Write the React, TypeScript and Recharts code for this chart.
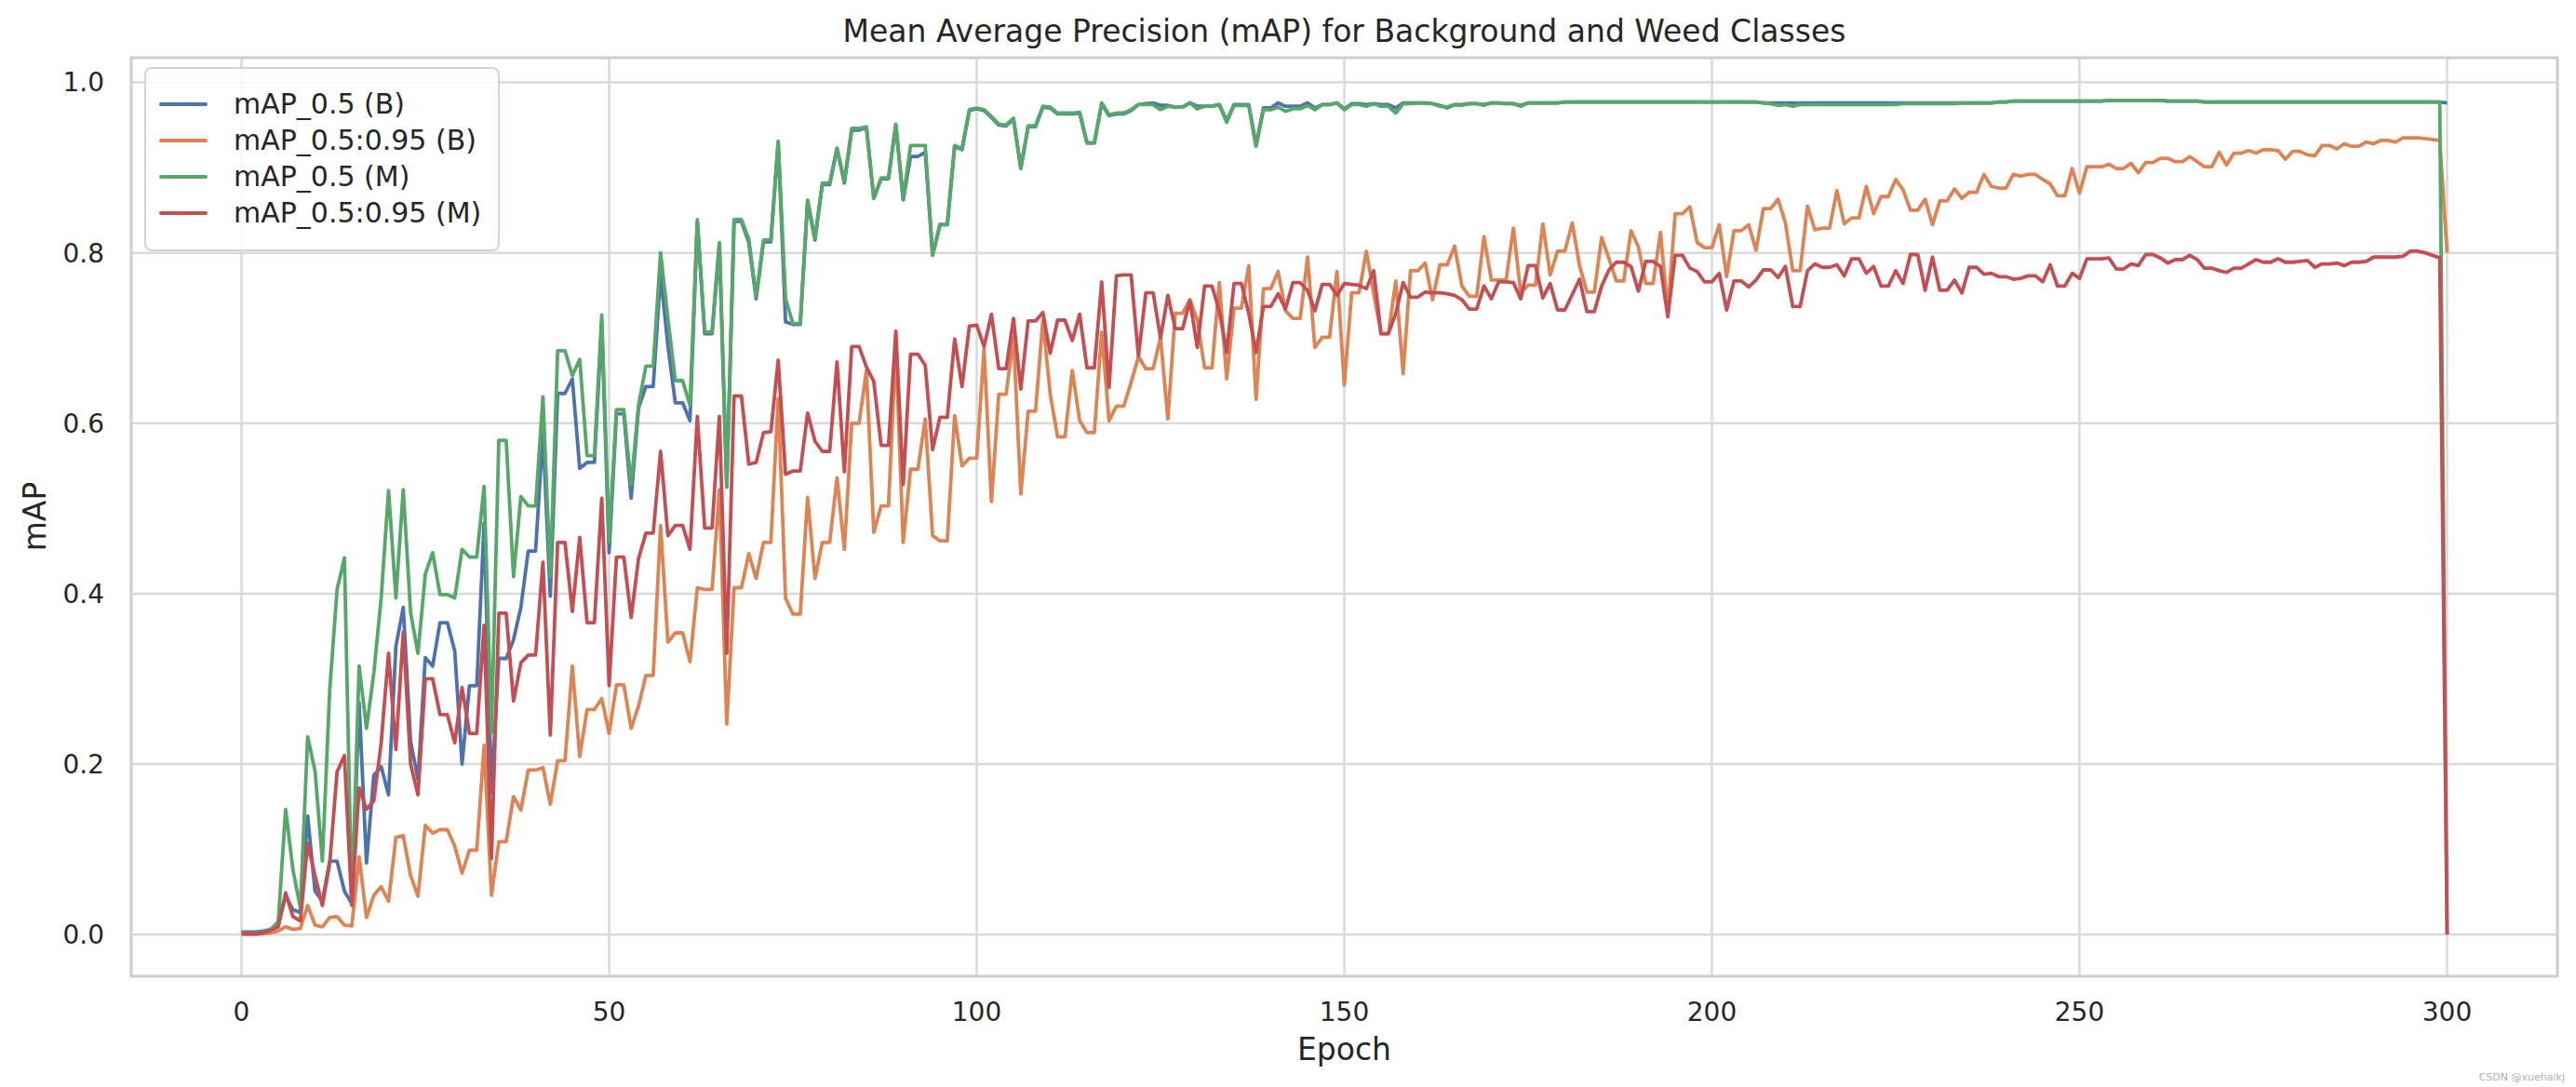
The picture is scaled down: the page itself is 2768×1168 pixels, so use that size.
import { LineChart, Line, XAxis, YAxis, CartesianGrid, Legend, ReferenceArea } from "recharts";

// mAP per epoch (index = epoch)
const MAP50_B = [
  0.003, 0.003, 0.003, 0.004, 0.006, 0.012, 0.045, 0.029, 0.026, 0.139,
  0.051, 0.039, 0.086, 0.086, 0.051, 0.036, 0.272, 0.084, 0.187, 0.197,
  0.164, 0.338, 0.384, 0.227, 0.182, 0.325, 0.315, 0.366, 0.366, 0.333,
  0.200, 0.292, 0.292, 0.483, 0.167, 0.324, 0.324, 0.346, 0.384, 0.450,
  0.450, 0.589, 0.397, 0.635, 0.635, 0.652, 0.547, 0.554, 0.554, 0.717,
  0.448, 0.611, 0.611, 0.512, 0.618, 0.643, 0.643, 0.775, 0.691, 0.624,
  0.624, 0.603, 0.836, 0.705, 0.705, 0.810, 0.525, 0.837, 0.837, 0.812,
  0.746, 0.813, 0.813, 0.929, 0.719, 0.716, 0.716, 0.860, 0.815, 0.880,
  0.880, 0.922, 0.882, 0.944, 0.944, 0.947, 0.864, 0.887, 0.887, 0.950,
  0.862, 0.913, 0.913, 0.918, 0.797, 0.833, 0.833, 0.925, 0.921, 0.967,
  0.969, 0.967, 0.959, 0.950, 0.949, 0.957, 0.899, 0.948, 0.948, 0.971,
  0.970, 0.963, 0.963, 0.963, 0.964, 0.929, 0.929, 0.975, 0.961, 0.963,
  0.963, 0.967, 0.974, 0.975, 0.976, 0.973, 0.973, 0.971, 0.971, 0.976,
  0.972, 0.972, 0.972, 0.974, 0.955, 0.974, 0.974, 0.974, 0.926, 0.970,
  0.970, 0.976, 0.972, 0.972, 0.972, 0.976, 0.970, 0.974, 0.974, 0.976,
  0.969, 0.975, 0.975, 0.974, 0.975, 0.974, 0.974, 0.970, 0.976, 0.976,
  0.976, 0.976, 0.975, 0.973, 0.970, 0.974, 0.974, 0.975, 0.975, 0.974,
  0.976, 0.976, 0.975, 0.975, 0.973, 0.976, 0.976, 0.976, 0.976, 0.976,
  0.977, 0.977, 0.977, 0.977, 0.977, 0.977, 0.977, 0.977, 0.977, 0.977,
  0.977, 0.977, 0.977, 0.977, 0.977, 0.977, 0.977, 0.977, 0.977, 0.977,
  0.977, 0.977, 0.977, 0.977, 0.977, 0.977, 0.977, 0.976, 0.976, 0.976,
  0.976, 0.976, 0.976, 0.976, 0.976, 0.976, 0.976, 0.976, 0.976, 0.976,
  0.976, 0.976, 0.976, 0.976, 0.976, 0.976, 0.976, 0.976, 0.976, 0.976,
  0.976, 0.976, 0.976, 0.976, 0.976, 0.976, 0.976, 0.976, 0.976, 0.977,
  0.977, 0.978, 0.978, 0.978, 0.978, 0.978, 0.978, 0.978, 0.978, 0.978,
  0.978, 0.978, 0.978, 0.978, 0.979, 0.979, 0.979, 0.979, 0.979, 0.979,
  0.979, 0.979, 0.978, 0.978, 0.978, 0.978, 0.978, 0.977, 0.977, 0.977,
  0.977, 0.977, 0.977, 0.977, 0.977, 0.977, 0.977, 0.977, 0.977, 0.977,
  0.977, 0.977, 0.977, 0.977, 0.977, 0.977, 0.977, 0.977, 0.977, 0.977,
  0.977, 0.977, 0.977, 0.977, 0.977, 0.977, 0.977, 0.977, 0.977, 0.977,
  0.976,
];

const MAP5095_B = [
  0.000, 0.000, 0.000, 0.001, 0.002, 0.004, 0.009, 0.006, 0.007, 0.034,
  0.011, 0.009, 0.020, 0.021, 0.011, 0.010, 0.091, 0.020, 0.046, 0.056,
  0.039, 0.114, 0.116, 0.069, 0.045, 0.128, 0.119, 0.123, 0.123, 0.104,
  0.072, 0.099, 0.099, 0.222, 0.046, 0.109, 0.109, 0.162, 0.146, 0.193,
  0.193, 0.196, 0.153, 0.204, 0.204, 0.315, 0.209, 0.264, 0.264, 0.277,
  0.236, 0.293, 0.293, 0.242, 0.268, 0.304, 0.304, 0.480, 0.343, 0.354,
  0.354, 0.320, 0.407, 0.405, 0.405, 0.522, 0.247, 0.407, 0.407, 0.447,
  0.418, 0.460, 0.460, 0.629, 0.395, 0.376, 0.376, 0.513, 0.418, 0.460,
  0.460, 0.536, 0.452, 0.600, 0.600, 0.662, 0.472, 0.503, 0.503, 0.689,
  0.460, 0.546, 0.546, 0.605, 0.468, 0.462, 0.462, 0.609, 0.550, 0.559,
  0.559, 0.687, 0.508, 0.634, 0.634, 0.701, 0.517, 0.614, 0.614, 0.721,
  0.634, 0.584, 0.584, 0.662, 0.603, 0.589, 0.589, 0.707, 0.603, 0.620,
  0.620, 0.648, 0.678, 0.664, 0.664, 0.701, 0.605, 0.729, 0.729, 0.745,
  0.721, 0.665, 0.665, 0.765, 0.652, 0.735, 0.735, 0.785, 0.628, 0.758,
  0.758, 0.778, 0.732, 0.723, 0.723, 0.795, 0.689, 0.701, 0.701, 0.778,
  0.645, 0.753, 0.753, 0.802, 0.752, 0.705, 0.705, 0.767, 0.658, 0.779,
  0.779, 0.788, 0.745, 0.786, 0.786, 0.808, 0.761, 0.749, 0.749, 0.819,
  0.768, 0.768, 0.768, 0.829, 0.753, 0.762, 0.762, 0.834, 0.774, 0.802,
  0.802, 0.835, 0.785, 0.754, 0.754, 0.818, 0.793, 0.767, 0.767, 0.826,
  0.807, 0.764, 0.764, 0.824, 0.731, 0.846, 0.846, 0.854, 0.812, 0.806,
  0.806, 0.833, 0.772, 0.826, 0.826, 0.833, 0.803, 0.852, 0.852, 0.863,
  0.835, 0.779, 0.779, 0.855, 0.827, 0.829, 0.829, 0.873, 0.834, 0.841,
  0.841, 0.878, 0.846, 0.866, 0.866, 0.886, 0.874, 0.850, 0.850, 0.863,
  0.833, 0.861, 0.861, 0.875, 0.864, 0.871, 0.871, 0.892, 0.878, 0.876,
  0.876, 0.892, 0.890, 0.892, 0.892, 0.886, 0.881, 0.867, 0.867, 0.899,
  0.870, 0.901, 0.901, 0.901, 0.904, 0.899, 0.899, 0.905, 0.894, 0.906,
  0.906, 0.911, 0.911, 0.907, 0.907, 0.913, 0.907, 0.901, 0.901, 0.918,
  0.903, 0.917, 0.917, 0.920, 0.917, 0.921, 0.921, 0.920, 0.910, 0.919,
  0.919, 0.915, 0.914, 0.926, 0.926, 0.922, 0.928, 0.925, 0.925, 0.930,
  0.928, 0.932, 0.932, 0.930, 0.935, 0.935, 0.935, 0.934, 0.933, 0.932,
  0.800,
];

const MAP50_M = [
  0.002, 0.002, 0.002, 0.003, 0.006, 0.015, 0.147, 0.076, 0.031, 0.232,
  0.192, 0.086, 0.287, 0.405, 0.442, 0.036, 0.315, 0.242, 0.307, 0.395,
  0.521, 0.395, 0.522, 0.378, 0.330, 0.423, 0.448, 0.399, 0.399, 0.395,
  0.452, 0.443, 0.443, 0.526, 0.237, 0.580, 0.580, 0.420, 0.514, 0.503,
  0.503, 0.631, 0.420, 0.685, 0.685, 0.656, 0.675, 0.562, 0.562, 0.727,
  0.461, 0.616, 0.616, 0.528, 0.621, 0.667, 0.667, 0.800, 0.723, 0.650,
  0.650, 0.621, 0.839, 0.707, 0.707, 0.812, 0.525, 0.839, 0.839, 0.816,
  0.749, 0.815, 0.815, 0.931, 0.746, 0.717, 0.717, 0.862, 0.817, 0.882,
  0.882, 0.923, 0.884, 0.946, 0.946, 0.948, 0.864, 0.888, 0.888, 0.951,
  0.863, 0.926, 0.926, 0.926, 0.797, 0.833, 0.833, 0.926, 0.922, 0.968,
  0.970, 0.968, 0.960, 0.951, 0.950, 0.958, 0.900, 0.949, 0.949, 0.972,
  0.971, 0.964, 0.964, 0.964, 0.965, 0.929, 0.929, 0.976, 0.962, 0.964,
  0.964, 0.968, 0.974, 0.974, 0.974, 0.968, 0.972, 0.971, 0.971, 0.976,
  0.969, 0.972, 0.972, 0.974, 0.953, 0.973, 0.973, 0.973, 0.925, 0.968,
  0.968, 0.971, 0.966, 0.969, 0.969, 0.973, 0.968, 0.974, 0.974, 0.976,
  0.968, 0.974, 0.974, 0.972, 0.975, 0.972, 0.972, 0.964, 0.975, 0.975,
  0.976, 0.976, 0.975, 0.972, 0.971, 0.974, 0.973, 0.975, 0.975, 0.973,
  0.976, 0.976, 0.975, 0.975, 0.972, 0.976, 0.976, 0.976, 0.976, 0.976,
  0.977, 0.977, 0.977, 0.977, 0.977, 0.977, 0.977, 0.977, 0.977, 0.977,
  0.977, 0.977, 0.977, 0.977, 0.977, 0.977, 0.977, 0.977, 0.977, 0.977,
  0.977, 0.977, 0.977, 0.977, 0.977, 0.977, 0.977, 0.976, 0.975, 0.973,
  0.974, 0.972, 0.974, 0.974, 0.974, 0.974, 0.974, 0.974, 0.974, 0.974,
  0.974, 0.974, 0.974, 0.974, 0.974, 0.974, 0.975, 0.975, 0.975, 0.975,
  0.975, 0.975, 0.975, 0.975, 0.976, 0.976, 0.976, 0.976, 0.976, 0.977,
  0.977, 0.978, 0.978, 0.978, 0.978, 0.978, 0.978, 0.978, 0.978, 0.978,
  0.978, 0.978, 0.978, 0.978, 0.979, 0.979, 0.979, 0.979, 0.979, 0.979,
  0.979, 0.979, 0.978, 0.978, 0.978, 0.978, 0.978, 0.977, 0.977, 0.977,
  0.977, 0.977, 0.977, 0.977, 0.977, 0.977, 0.977, 0.977, 0.977, 0.977,
  0.977, 0.977, 0.977, 0.977, 0.977, 0.977, 0.977, 0.977, 0.977, 0.977,
  0.977, 0.977, 0.977, 0.977, 0.977, 0.977, 0.977, 0.977, 0.977, 0.977,
  0.000,
];

const MAP5095_M = [
  0.001, 0.001, 0.001, 0.002, 0.005, 0.009, 0.049, 0.021, 0.016, 0.107,
  0.069, 0.034, 0.084, 0.191, 0.210, 0.034, 0.172, 0.147, 0.157, 0.225,
  0.330, 0.217, 0.355, 0.200, 0.164, 0.300, 0.300, 0.258, 0.258, 0.225,
  0.290, 0.236, 0.236, 0.363, 0.089, 0.377, 0.377, 0.274, 0.319, 0.328,
  0.328, 0.437, 0.234, 0.460, 0.460, 0.379, 0.466, 0.366, 0.366, 0.512,
  0.292, 0.443, 0.443, 0.372, 0.441, 0.471, 0.471, 0.567, 0.468, 0.480,
  0.480, 0.452, 0.608, 0.477, 0.477, 0.608, 0.330, 0.632, 0.632, 0.552,
  0.554, 0.589, 0.590, 0.674, 0.540, 0.544, 0.544, 0.612, 0.579, 0.567,
  0.567, 0.672, 0.543, 0.690, 0.690, 0.666, 0.649, 0.574, 0.574, 0.708,
  0.528, 0.681, 0.681, 0.668, 0.569, 0.607, 0.607, 0.699, 0.643, 0.714,
  0.715, 0.690, 0.728, 0.664, 0.664, 0.723, 0.640, 0.720, 0.720, 0.730,
  0.682, 0.721, 0.721, 0.697, 0.728, 0.665, 0.665, 0.766, 0.642, 0.773,
  0.774, 0.774, 0.679, 0.753, 0.753, 0.700, 0.750, 0.711, 0.711, 0.744,
  0.689, 0.761, 0.761, 0.732, 0.683, 0.764, 0.764, 0.729, 0.683, 0.737,
  0.737, 0.752, 0.734, 0.765, 0.765, 0.756, 0.732, 0.763, 0.763, 0.750,
  0.764, 0.763, 0.762, 0.758, 0.779, 0.705, 0.705, 0.729, 0.765, 0.748,
  0.748, 0.754, 0.753, 0.753, 0.752, 0.750, 0.745, 0.734, 0.734, 0.761,
  0.746, 0.766, 0.766, 0.765, 0.746, 0.785, 0.785, 0.747, 0.764, 0.733,
  0.733, 0.751, 0.769, 0.731, 0.731, 0.761, 0.780, 0.789, 0.789, 0.784,
  0.755, 0.790, 0.790, 0.784, 0.725, 0.797, 0.797, 0.782, 0.778, 0.766,
  0.766, 0.776, 0.733, 0.767, 0.767, 0.760, 0.768, 0.780, 0.780, 0.771,
  0.784, 0.737, 0.737, 0.779, 0.787, 0.783, 0.783, 0.786, 0.773, 0.793,
  0.793, 0.776, 0.784, 0.761, 0.761, 0.779, 0.764, 0.798, 0.798, 0.756,
  0.795, 0.756, 0.756, 0.768, 0.753, 0.783, 0.783, 0.775, 0.776, 0.772,
  0.772, 0.769, 0.770, 0.773, 0.773, 0.766, 0.786, 0.761, 0.761, 0.776,
  0.770, 0.793, 0.793, 0.793, 0.794, 0.781, 0.781, 0.787, 0.785, 0.798,
  0.798, 0.794, 0.788, 0.792, 0.792, 0.797, 0.792, 0.782, 0.782, 0.779,
  0.777, 0.782, 0.782, 0.787, 0.792, 0.789, 0.789, 0.793, 0.789, 0.789,
  0.790, 0.791, 0.783, 0.787, 0.787, 0.788, 0.785, 0.789, 0.789, 0.790,
  0.795, 0.795, 0.795, 0.795, 0.796, 0.802, 0.802, 0.800, 0.797, 0.794,
  0.000,
];

const X_TICKS = [0, 50, 100, 150, 200, 250, 300];
const Y_TICKS = [0, 0.2, 0.4, 0.6, 0.8, 1.0];
const SERIES_NAMES = ["mAP_0.5 (B)", "mAP_0.5:0.95 (B)", "mAP_0.5 (M)", "mAP_0.5:0.95 (M)"];

const rows = MAP50_B.map((v, i) => ({
  epoch: i,
  mapB: v,
  map95B: MAP5095_B[i],
  mapM: MAP50_M[i],
  map95M: MAP5095_M[i],
}));

const FONT = "'DejaVu Sans', sans-serif";
const INK = "#262626";
const GRID = "#dadada";
const SPINE = "#cfcfcf";

const tickStyle = { fill: INK, fontSize: 28, fontFamily: FONT };

function LegendBox({ payload }: any) {
  // recharts sorts legend items by name; keep the plotting order instead
  const items = [...(payload || [])].sort(
    (a: any, b: any) => SERIES_NAMES.indexOf(a.value) - SERIES_NAMES.indexOf(b.value)
  );
  return (
    <div
      style={{
        background: "rgba(255,255,255,0.8)",
        border: "2px solid #d4d4d4",
        borderRadius: 8,
        padding: "18px 18px 20px 14px",
        fontFamily: FONT,
        fontSize: 30,
        color: INK,
      }}
    >
      {items.map((p: any) => (
        <div key={p.value} style={{ display: "flex", alignItems: "center", height: 39 }}>
          <div style={{ width: 52, height: 4, background: p.color, borderRadius: 2, marginRight: 28 }} />
          <span>{p.value}</span>
        </div>
      ))}
    </div>
  );
}

function YLabel({ viewBox }: any) {
  const cx = viewBox.x + 37;
  const cy = 555;
  return (
    <text x={cx} y={cy} transform={`rotate(-90 ${cx} ${cy})`} textAnchor="middle" dominantBaseline="central" fill={INK} fontSize={33} fontFamily={FONT}>
      mAP
    </text>
  );
}

export default function App() {
  return (
    <div style={{ position: "absolute", left: 0, top: 0, width: 2768, height: 1168, background: "#fff" }}>
      <div
        style={{
          position: "absolute",
          top: 15,
          left: 141,
          width: 2607,
          textAlign: "center",
          fontFamily: FONT,
          fontSize: 33,
          lineHeight: "38px",
          color: INK,
        }}
      >
        Mean Average Precision (mAP) for Background and Weed Classes
      </div>
      <LineChart width={2768} height={1168} data={rows} margin={{ top: 62, right: 20, bottom: 59, left: 0 }}>
        <CartesianGrid stroke={GRID} strokeWidth={2.5} />
        <XAxis
          dataKey="epoch"
          type="number"
          domain={[-15, 315]}
          ticks={X_TICKS}
          allowDataOverflow
          height={60}
          tickSize={0}
          tickMargin={28}
          axisLine={false}
          tickLine={false}
          tick={tickStyle}
          label={{ value: "Epoch", position: "bottom", offset: 7, fill: INK, fontSize: 33, fontFamily: FONT }}
        />
        <YAxis
          type="number"
          domain={[-0.049, 1.029]}
          ticks={Y_TICKS}
          allowDataOverflow
          width={141}
          tickSize={0}
          tickMargin={29}
          axisLine={false}
          tickLine={false}
          tick={tickStyle}
          tickFormatter={(v: number) => v.toFixed(1)}
          label={<YLabel />}
        />
        <ReferenceArea x1={-15} x2={315} y1={-0.049} y2={1.029} fill="none" stroke={SPINE} strokeWidth={3} />
        <Line dataKey="mapB" name={SERIES_NAMES[0]} stroke="#4c72b0" strokeWidth={3.8} dot={false} isAnimationActive={false} strokeLinejoin="round" />
        <Line dataKey="map95B" name={SERIES_NAMES[1]} stroke="#dd8452" strokeWidth={3.8} dot={false} isAnimationActive={false} strokeLinejoin="round" />
        <Line dataKey="mapM" name={SERIES_NAMES[2]} stroke="#55a868" strokeWidth={3.8} dot={false} isAnimationActive={false} strokeLinejoin="round" />
        <Line dataKey="map95M" name={SERIES_NAMES[3]} stroke="#c44e52" strokeWidth={3.8} dot={false} isAnimationActive={false} strokeLinejoin="round" />
        <Legend
          layout="horizontal"
          align="center"
          verticalAlign="middle"
          content={<LegendBox />}
          wrapperStyle={{ left: 155, top: 72, width: "auto" }}
        />
      </LineChart>
      <div
        style={{
          position: "absolute",
          right: 12,
          bottom: 4,
          fontFamily: FONT,
          fontSize: 11,
          color: "#b0b0b0",
        }}
      >
        CSDN @xuehaikj
      </div>
    </div>
  );
}
